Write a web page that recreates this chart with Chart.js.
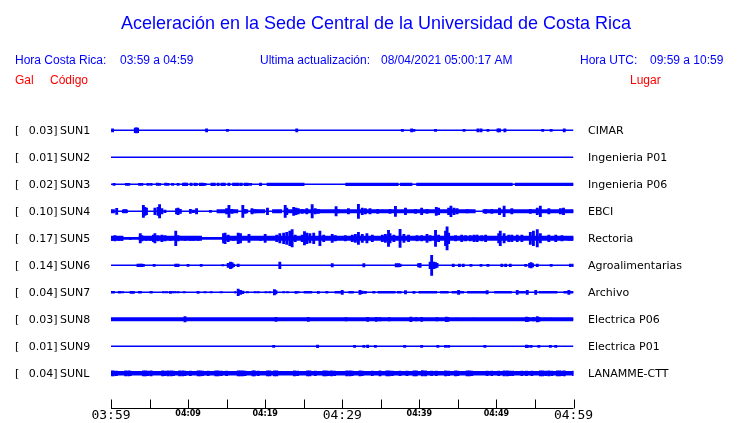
<!DOCTYPE html>
<html>
  <head>
    <style>
      body {
        margin: 0;
        background: #fff;
      }
      #sismo {
        display: block;
      }
    </style>
    <script src="https://cdn.jsdelivr.net/npm/chart.js"></script>
  </head>
  <body>
    <canvas id="sismo" width="740" height="423"></canvas>
    <script>
      // estaciones, de arriba hacia abajo
      var codes = ['SUN1', 'SUN2', 'SUN3', 'SUN4', 'SUN5', 'SUN6', 'SUN7', 'SUN8', 'SUN9', 'SUNL'];
      var places = ['CIMAR', 'Ingenieria P01', 'Ingenieria P06', 'EBCI', 'Rectoria',
                    'Agroalimentarias', 'Archivo', 'Electrica P06', 'Electrica P01', 'LANAMME-CTT'];
      var galMax = [0.03, 0.01, 0.02, 0.10, 0.17, 0.14, 0.04, 0.03, 0.01, 0.04];

      // eje de tiempo: minutos desde las 03:59
      var tickMinutes = [0, 5, 10, 15, 20, 25, 30, 35, 40, 45, 50, 55, 60];
      var tickLabels = {0: '03:59', 10: '04:09', 20: '04:19', 30: '04:29', 40: '04:39', 50: '04:49', 60: '04:59'};

      // picos: [minuto, media amplitud]
      var sun1Spikes = [[0.2,1.5],[3.15,2.3],[3.3,2.5],[3.45,2.3],[12.4,1.5],[15.1,1],[24.1,1.5],[37.8,1],[39.0,1.5],
        [39.3,1],[42.1,1],[45.8,1],[47.6,1.5],[48.0,1.5],[48.9,1],[50.2,1.5],[50.4,1.5],[51.1,1.5],[56.0,1],[57.1,1],[58.8,1.5]];
      var sun2Spikes = [];
      var sun3Spikes = [[0.4,1],[2.0,1],[2.3,1],[3.7,1],[4.0,1],[4.8,1],[5.2,1],[6.0,1.2],[6.3,1],[7.1,1.2],[7.4,1],[8.0,1],
        [8.7,1],[9.4,1.3],[9.6,1.3],[9.8,1.3],[10.4,1.3],[10.9,1.3],[11.1,1],[11.6,1.3],[11.9,1.3],[12.2,1],[13.1,1.3],
        [13.4,1.3],[13.9,1.3],[14.4,1.3],[14.7,1.3],[15.3,1.3],[15.9,1.3],[16.2,1.3],[16.5,1.3],[16.9,1.3],[17.4,1.3],
        [17.7,1.3],[18.1,1],[19.4,1.3]];
      var sun4Spikes = [[0.74,3],[1.6,1.3],[1.8,1.3],[2.0,1.3],[4.2,6],[4.4,4],[4.6,3.3],[5.7,3.3],[6.1,4],[6.3,6.7],
        [6.6,2.7],[7.0,1.3],[8.5,2.7],[8.7,3.3],[9.0,2],[10.3,2],[10.7,1.3],[11.1,2.7],[12.9,1],[15.0,2.7],[15.3,6],
        [15.7,2],[17.1,6],[17.4,2],[18.3,2.7],[18.7,1.7],[19.1,1.3],[20.3,3.3],[21.5,1],[22.6,6],[22.8,3.3],[23.7,4],
        [24.0,3.3],[24.3,2.7],[24.8,2],[25.4,2.7],[26.1,6.7],[26.5,2.7],[26.9,2],[29.2,4.7],[29.5,1.7],[30.8,2.7],
        [32.1,7],[32.6,3.3],[33.0,2.7],[33.6,2.7],[34.6,2],[35.2,1.3],[36.2,2],[36.9,5],[38.2,3.3],[39.5,2],[40.3,3.3],
        [41.0,2],[42.2,4],[42.5,3.3],[43.8,3.3],[44.1,5.3],[44.5,3.3],[44.9,2.7],[46.2,1.7],[46.6,1.3],[48.6,2],
        [49.4,2],[50.4,3.3],[51.0,5.3],[52.0,2.7],[54.4,2],[55.3,3.3],[55.7,5.3],[56.8,2.7],[58.3,2.7],[58.7,3.3],[59.8,1.3]];
      var sun5Spikes = [[0.1,2],[0.5,2.7],[1.0,2],[1.4,2],[2.5,1],[3.8,4.7],[4.0,2.7],[4.6,2],[5.1,2],[5.5,3.3],[5.7,4.7],
        [6.1,2.7],[6.6,3.3],[7.0,2.7],[7.7,2],[8.4,7.3],[8.7,2.7],[9.6,2],[10.3,2],[10.7,2],[11.3,2],[14.6,4.7],[14.8,5.3],
        [15.2,3.3],[15.9,2],[16.5,5.3],[16.8,4.7],[17.9,4],[19.4,2],[20.0,4],[21.5,3.3],[21.9,4.7],[22.4,5.3],[22.8,6],
        [23.2,7.3],[23.5,8.7],[23.9,3.3],[24.8,3.3],[25.1,6.7],[25.4,5.3],[25.8,4.7],[26.3,5.3],[27.1,7.3],[27.6,3.3],
        [28.7,4],[29.1,2.7],[30.4,2.7],[31.3,3.3],[31.7,4],[32.1,6],[32.6,4],[33.2,4.7],[33.9,3.3],[35.2,3.3],[35.6,4],
        [36.0,8],[36.2,4.7],[36.7,3.3],[37.5,9],[38.0,4],[38.6,3.3],[39.7,2.7],[40.3,2.7],[41.0,4],[41.4,2.7],[42.1,8],
        [42.5,3.3],[43.4,7.3],[43.6,11.5],[43.8,5.3],[44.7,2.7],[45.5,3.3],[46.0,2.7],[46.6,2.7],[47.1,3.3],[47.5,3.3],
        [48.1,2.7],[48.6,3.3],[50.3,4.7],[50.5,7.3],[51.0,4.7],[51.6,3.3],[52.0,3.3],[52.7,3.3],[53.3,3.3],[54.4,6],
        [54.8,7.3],[55.3,8.7],[55.7,4.7],[56.8,3.3],[57.7,3.3],[58.5,2.7],[59.4,2],[59.8,2]];
      var sun6Spikes = [[3.5,1.3],[3.8,1.3],[4.0,1.3],[4.2,1],[5.6,1],[8.4,1.3],[8.7,1.3],[10.0,1],[11.7,1],[14.5,0.7],
        [15.2,2],[15.5,3.3],[15.7,2.7],[15.9,1.3],[16.5,1.3],[21.9,3.3],[28.7,1.7],[32.8,1.7],[37.0,1.7],[37.3,1.7],
        [37.5,1.3],[39.9,1.7],[40.1,2],[41.4,3.3],[41.6,10],[41.9,3.3],[42.1,2.7],[42.3,2],[44.4,1.3],[45.2,1.3],
        [45.7,1.3],[46.7,1],[48.0,1],[48.9,1],[50.7,1.3],[51.2,1.3],[51.8,1.3],[53.8,1],[54.3,2],[54.5,2.7],[54.7,1.7],
        [55.3,1.3],[57.1,1],[59.6,1.3],[60.0,1.3]];
      var sun7Spikes = [[1.5,0.7],[2.6,1],[2.9,1],[6.8,0.7],[7.2,0.7],[7.7,1],[8.0,0.7],[8.3,0.7],[8.7,0.7],[9.5,0.7],
        [11.3,1],[12.2,0.7],[13.0,0.7],[14.3,0.7],[16.5,3.3],[16.8,2],[17.1,1.3],[17.7,0.7],[18.7,0.7],[19.1,0.7],
        [20.1,0.7],[20.6,0.7],[21.2,2.7],[21.4,1.7],[22.4,0.7],[22.9,0.7],[24.0,1],[24.3,0.7],[26.9,1],[30.0,2],
        [32.3,2],[32.6,1.3],[33.0,1],[38.2,1.7],[39.3,1],[45.1,2],[48.8,1.7],[52.7,2],[54.0,2],[55.1,2],[59.4,2]];
      var sun8Spikes = [[9.6,2.7],[21.4,2],[25.6,2],[30.5,1.7],[33.3,2],[34.4,2],[34.9,1.7],[36.1,1.7],[38.9,2.3],
        [39.6,1.7],[40.3,2],[42.3,1.7],[43.5,2.3],[43.7,2],[44.9,1.3],[47.1,1.3],[53.9,2.3],[54.1,2],[54.8,1.7],
        [55.3,2.7],[55.5,2],[56.4,1.3],[57.0,1.3]];
      var sun9Spikes = [[21.1,1],[26.8,1.3],[31.6,1],[32.8,1],[33.3,1.3],[34.3,1],[38.1,1],[40.3,1],[42.4,1],[43.4,1],
        [43.8,1],[48.5,1],[53.9,1.3],[54.1,1],[54.5,1],[55.5,1],[57.0,1],[57.7,1]];
      var sunlSpikes = [[0.0,2.5],[0.3,2.5],[0.7,2.3],[1.9,2.5],[2.3,2.5],[2.5,2.3],[4.2,2.5],[4.5,2.5],[4.8,2.3],
        [5.2,2.5],[6.7,2.5],[7.0,2.3],[7.4,2.5],[7.8,2.5],[8.1,2.3],[8.9,2.5],[9.3,2.5],[9.6,2.3],[10.3,2.3],[11.3,2.5],
        [11.6,2.5],[11.9,2.3],[12.6,2.3],[13.6,2.5],[13.9,2.5],[14.3,2.3],[15.0,2.3],[16.5,2.5],[16.8,2.5],[17.1,2.5],
        [17.4,2.3],[18.4,2.5],[18.6,2.5],[19.1,2.3],[20.3,2.5],[20.6,2.5],[21.2,2.5],[21.5,2.5],[23.8,2.5],[24.2,2.3],
        [25.5,2.5],[25.8,2.5],[26.5,2.3],[27.6,2.5],[27.9,2.5],[28.2,2.3],[28.6,2.5],[29.0,2.3],[30.6,2.5],[31.0,2.5],
        [31.3,2.3],[32.3,2.5],[32.6,2.3],[33.9,2.3],[34.9,2.5],[35.8,2.5],[36.1,2.5],[36.5,2.3],[37.5,2.3],[38.4,2.3],
        [39.3,2.5],[39.6,2.5],[40.4,2.7],[40.8,2.5],[41.6,2.3],[42.2,2.3],[43.4,2.5],[43.8,2.3],[44.7,2.5],[45.0,2.3],
        [46.2,2.5],[46.5,2.5],[46.8,2.3],[48.8,2.3],[49.4,2.3],[50.3,2.3],[51.0,2.5],[51.4,2.5],[51.7,2.3],[52.1,2.3],
        [53.3,2.3],[53.9,2.3],[54.6,2.3],[55.7,2.5],[56.0,2.5],[56.4,2.3],[56.8,2.5],[57.2,2.3],[57.9,2.5],[58.2,2.5],
        [58.5,2.3],[58.8,2.5],[60.0,2.3]];

      // tramos de banda gruesa: [minuto inicio, minuto fin]
      var sun1Bands = [];
      var sun2Bands = [];
      var sun3Bands = [[20.2,25.1],[30.4,37.3],[37.5,39.1],[39.6,52.1],[52.4,60]];
      var sun4Bands = [[0,0.5],[1.5,2.1],[13.7,16.5],[17.2,17.8],[18.1,20.0],[20.9,22.2],[22.4,47.3],[48.2,60]];
      var sun5Bands = [[0,1.6],[3.6,11.8],[14.4,60]];
      var sun6Bands = [];
      var sun7Bands = [[0,0.5],[0.9,1.3],[3.5,4.0],[5.0,5.4],[16.0,16.2],[25.0,26.1],[27.8,28.2],[29.0,30.0],[30.8,31.5],
        [33.9,34.3],[34.6,36.9],[37.1,37.7],[39.9,42.3],[42.7,43.8],[44.2,45.8],[46.2,48.8],[49.7,52.0],[52.9,53.8],
        [55.5,57.9],[58.7,60]];
      var sun8Bands = [[0,60]];
      var sun9Bands = [];
      var sunlBands = [[0,60]];

      var spikes = [sun1Spikes, sun2Spikes, sun3Spikes, sun4Spikes, sun5Spikes, sun6Spikes, sun7Spikes, sun8Spikes, sun9Spikes, sunlSpikes];
      var bands = [sun1Bands, sun2Bands, sun3Bands, sun4Bands, sun5Bands, sun6Bands, sun7Bands, sun8Bands, sun9Bands, sunlBands];

      // estilos
      var blue = '#0000ff';
      var red = '#ff0000';
      var baseWidth = [1.5, 1.5, 1.5, 1.6, 2.8, 1.5, 1.5, 1.5, 1.5, 1.5];
      var bandWidth = [0, 0, 3.3, 4, 5, 0, 2.5, 4, 0, 4.5];
      var rowGap = 27;

      function buildDatasets() {
        var datasets = [];
        codes.forEach(function(code, i) {
          var r = i * rowGap;
          datasets.push({
            type: 'line',
            data: [{x: 0, y: r}, {x: 60, y: r}],
            borderColor: blue,
            borderWidth: baseWidth[i],
            pointRadius: 0
          });
          if (bands[i].length) {
            var pts = [];
            bands[i].forEach(function(seg) {
              pts.push({x: seg[0], y: r});
              pts.push({x: seg[1], y: r});
              pts.push({x: seg[1], y: null});
            });
            datasets.push({
              type: 'line',
              data: pts,
              borderColor: blue,
              borderWidth: bandWidth[i],
              pointRadius: 0,
              spanGaps: false
            });
          }
          if (spikes[i].length) {
            datasets.push({
              type: 'bar',
              data: spikes[i].map(function(s) {
                return {x: s[0], y: [r - s[1], r + s[1]]};
              }),
              backgroundColor: blue,
              borderWidth: 0,
              barThickness: 2.2,
              grouped: false
            });
          }
        });
        return datasets;
      }

      var textPlugin = {
        id: 'textos',
        afterDraw: function(chart) {
          var ctx = chart.ctx;
          var xs = chart.scales.x;
          var ys = chart.scales.y;
          ctx.save();
          ctx.textBaseline = 'alphabetic';

          ctx.fillStyle = blue;
          ctx.font = '19px "Liberation Sans", Arial, sans-serif';
          ctx.textAlign = 'center';
          ctx.fillText('Aceleración en la Sede Central de la Universidad de Costa Rica', 376, 29, 510);

          ctx.textAlign = 'left';
          ctx.font = '12px "Liberation Sans", Arial, sans-serif';
          ctx.fillText('Hora Costa Rica:', 15, 64);
          ctx.fillText('03:59 a 04:59', 120, 64);
          ctx.fillText('Ultima actualización:', 260, 64);
          ctx.fillText('08/04/2021 05:00:17 AM', 381, 64);
          ctx.fillText('Hora UTC:', 580, 64);
          ctx.fillText('09:59 a 10:59', 650, 64);

          ctx.fillStyle = red;
          ctx.fillText('Gal', 15, 84);
          ctx.fillText('Código', 50, 84);
          ctx.fillText('Lugar', 630, 84);

          // etiquetas de cada estacion
          ctx.fillStyle = '#000';
          ctx.font = '11px "DejaVu Sans", sans-serif';
          ctx.textBaseline = 'middle';
          codes.forEach(function(code, i) {
            var y = ys.getPixelForValue(i * rowGap) + 0.5;
            ctx.textAlign = 'left';
            ctx.fillText('[', 15, y);
            ctx.fillText(code, 60, y);
            ctx.fillText(places[i], 588, y);
            ctx.textAlign = 'right';
            ctx.fillText(galMax[i].toFixed(2) + ']', 57.5, y);
          });

          // eje de tiempo
          var axisY = 408.5;
          ctx.strokeStyle = '#000';
          ctx.lineWidth = 1;
          ctx.beginPath();
          ctx.moveTo(xs.getPixelForValue(0), axisY);
          ctx.lineTo(xs.getPixelForValue(60), axisY);
          tickMinutes.forEach(function(m) {
            var px = Math.round(xs.getPixelForValue(m)) + 0.5;
            ctx.moveTo(px, axisY);
            ctx.lineTo(px, axisY - 9);
          });
          ctx.stroke();

          ctx.textAlign = 'center';
          ctx.textBaseline = 'middle';
          tickMinutes.forEach(function(m) {
            var lbl = tickLabels[m];
            if (!lbl) return;
            var px = xs.getPixelForValue(m);
            if (m % 30 === 0) {
              ctx.font = '13px "DejaVu Sans Mono", monospace';
              ctx.fillText(lbl, px, 416);
            } else {
              ctx.font = 'bold 8px "DejaVu Sans", sans-serif';
              ctx.fillText(lbl, px, 414);
            }
          });
          ctx.restore();
        }
      };

      var ctx = document.getElementById('sismo').getContext('2d');
      var sismoChart = new Chart(ctx, {
        type: 'line',
        data: {datasets: buildDatasets()},
        options: {
          responsive: false,
          animation: false,
          devicePixelRatio: 1,
          layout: {
            padding: {left: 111, right: 166.5, top: 116.8, bottom: 36.2}
          },
          scales: {
            x: {type: 'linear', min: 0, max: 60, offset: false, display: false},
            y: {type: 'linear', min: -13.5, max: 256.5, reverse: true, display: false}
          },
          plugins: {
            legend: {display: false},
            tooltip: {enabled: false}
          }
        },
        plugins: [textPlugin]
      });
    </script>
  </body>
</html>
